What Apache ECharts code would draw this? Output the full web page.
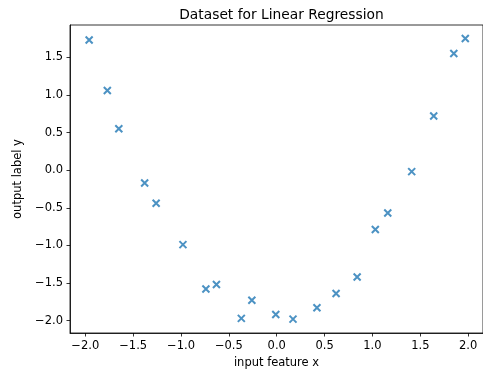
<!DOCTYPE html>
<html>
<head>
<meta charset="utf-8">
<script src="https://cdn.jsdelivr.net/npm/echarts@6/dist/echarts.min.js"></script>
<style>
  html, body { margin: 0; padding: 0; background: #fff; }
  #chart { width: 483px; height: 369px; }
</style>
</head>
<body>
<div id="chart"></div>
<script>
const xValues = [-1.96, -1.77, -1.65, -1.38, -1.26, -0.98, -0.74, -0.63, -0.37, -0.26,
  -0.01, 0.17, 0.42, 0.62, 0.84, 1.03, 1.16, 1.41, 1.64, 1.85, 1.97];
const yValues = [1.73, 1.06, 0.55, -0.17, -0.44, -0.99, -1.58, -1.52, -1.97, -1.73,
  -1.92, -1.98, -1.83, -1.64, -1.42, -0.79, -0.57, -0.02, 0.72, 1.55, 1.75];
const xTicks = [-2.0, -1.5, -1.0, -0.5, 0.0, 0.5, 1.0, 1.5, 2.0];
const yTicks = [-2.0, -1.5, -1.0, -0.5, 0.0, 0.5, 1.0, 1.5];

const points = xValues.map((x, i) => [x, yValues[i]]);
const fmt = v => (v < 0 ? "\u2212" : "") + Math.abs(v).toFixed(1);
const font = "DejaVu Sans";

const axisCommon = {
  type: "value",
  axisLine: {show: true, onZero: false, lineStyle: {color: "#000", width: 0.8}},
  axisTick: {show: true, length: 3.5, lineStyle: {color: "#000", width: 0.8}},
  splitLine: {show: false},
  nameLocation: "middle",
  nameTextStyle: {color: "#000", fontSize: 11.5, fontFamily: font}
};

const chart = echarts.init(document.getElementById("chart"));

chart.setOption({
  animation: false,
  title: {
    text: "Dataset for Linear Regression",
    left: 276.5,
    textAlign: "center",
    top: 3,
    textStyle: {color: "#000", fontSize: 13.8, fontWeight: "normal", fontFamily: font}
  },
  grid: {
    left: 70, right: 0, top: 25, bottom: 36,
    outerBoundsMode: "none",
    containLabel: false,
    show: true, borderColor: "#000", borderWidth: 0.8
  },
  xAxis: Object.assign({}, axisCommon, {
    min: -2.16,
    max: 2.155,
    name: "input feature x",
    nameGap: 22,
    axisTick: Object.assign({}, axisCommon.axisTick, {customValues: xTicks}),
    axisLabel: {customValues: xTicks, formatter: fmt, margin: 7, color: "#000", fontSize: 11.5, fontFamily: font}
  }),
  yAxis: Object.assign({}, axisCommon, {
    min: -2.165,
    max: 1.93,
    name: "output label y",
    nameGap: 39,
    axisTick: Object.assign({}, axisCommon.axisTick, {customValues: yTicks}),
    axisLabel: {customValues: yTicks, formatter: fmt, margin: 7, color: "#000", fontSize: 11.5, fontFamily: font}
  }),
  series: [
    {
      type: "scatter",
      data: points,
      symbol: "path://M0,0L10,10M10,0L0,10",
      symbolSize: 7,
      itemStyle: {color: "#1f77b4", borderColor: "#1f77b4", borderWidth: 2}
    }
  ]
});
</script>
</body>
</html>
